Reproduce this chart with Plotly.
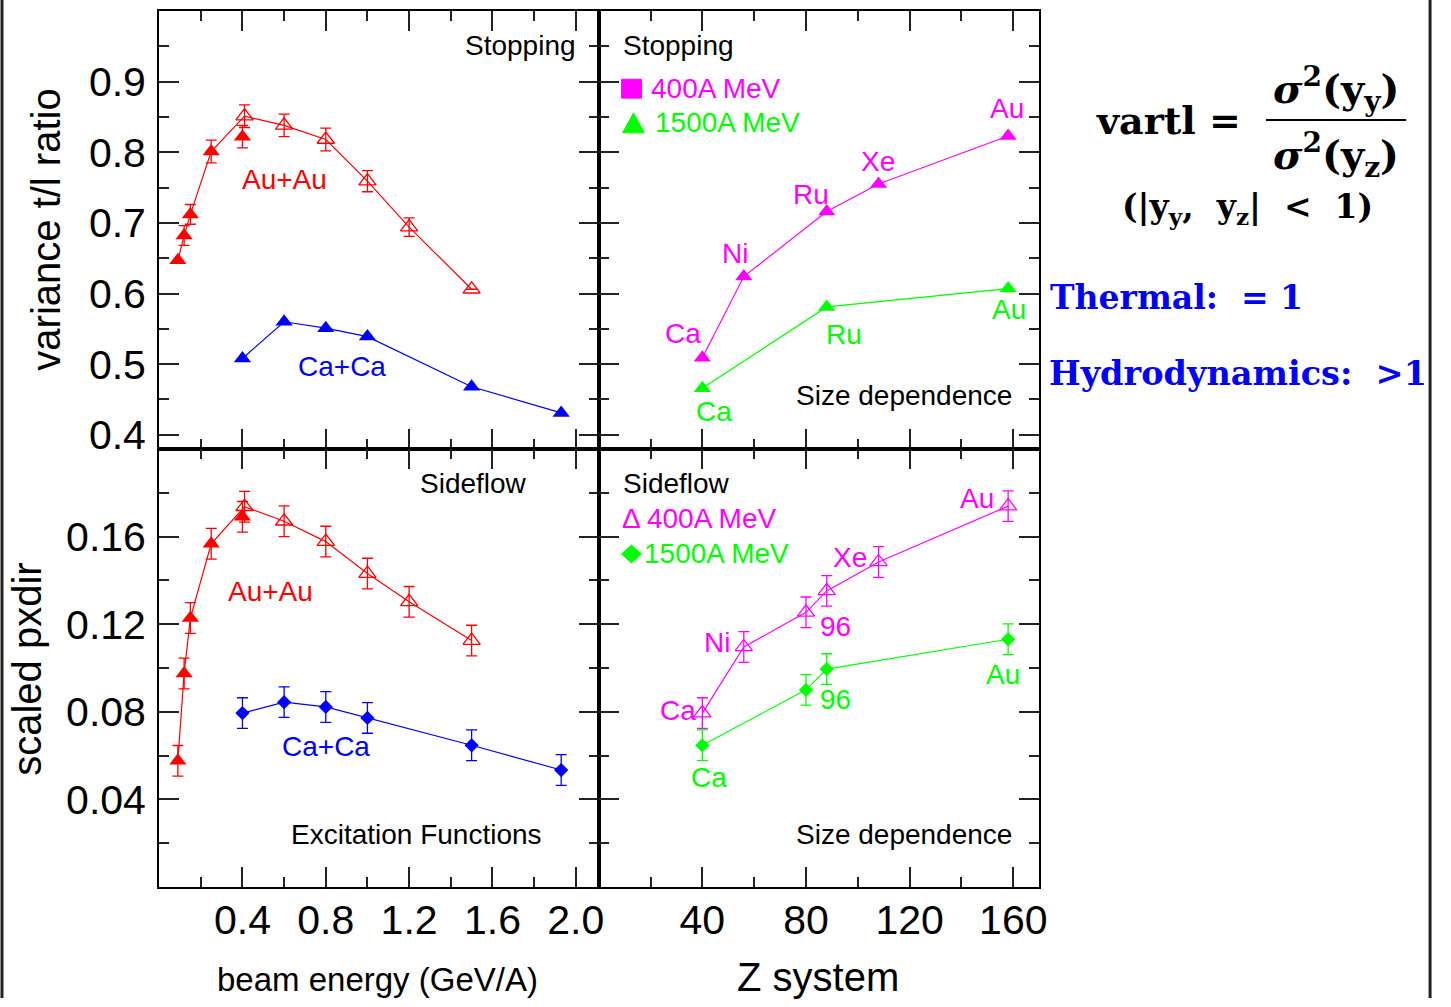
import plotly.graph_objects as go

W, H = 1451, 1007

# ---------------- data ----------------
# Excitation functions, beam energy in GeV/A
au_energy_low = [0.09, 0.12, 0.15, 0.25, 0.40]
au_energy_high = [0.41, 0.6, 0.8, 1.0, 1.2, 1.5]
au_vartl_low = [0.647, 0.682, 0.712, 0.801, 0.822]
au_vartl_low_err = [0.0, 0.014, 0.014, 0.016, 0.016]
au_vartl_high = [0.851, 0.838, 0.818, 0.759, 0.694, 0.606]
au_vartl_high_err = [0.016, 0.016, 0.016, 0.015, 0.013, 0.0]
au_pxdir_low = [0.0576, 0.0975, 0.1228, 0.1567, 0.169]
au_pxdir_low_err = [0.007, 0.007, 0.007, 0.007, 0.007]
au_pxdir_high = [0.1736, 0.167, 0.1577, 0.1431, 0.1302, 0.1125]
au_pxdir_high_err = [0.007, 0.007, 0.007, 0.007, 0.007, 0.007]

ca_energy = [0.4, 0.6, 0.8, 1.0, 1.5, 1.93]
ca_vartl = [0.508, 0.560, 0.551, 0.539, 0.468, 0.431]
ca_pxdir = [0.0794, 0.0844, 0.0822, 0.0772, 0.0647, 0.0534]
ca_pxdir_err = [0.007, 0.007, 0.007, 0.007, 0.007, 0.007]

# Size dependence, Z of the system
stop_z_400 = [40, 56, 88, 108, 158]
stop_vartl_400 = [0.509, 0.624, 0.716, 0.755, 0.823]
stop_names_400 = ["Ca", "Ni", "Ru", "Xe", "Au"]
stop_z_1500 = [40, 88, 158]
stop_vartl_1500 = [0.466, 0.581, 0.607]
stop_names_1500 = ["Ca", "Ru", "Au"]

flow_z_400 = [40, 56, 80, 88, 108, 158]
flow_pxdir_400 = [0.0794, 0.1096, 0.1254, 0.1352, 0.1484, 0.1739]
flow_pxdir_400_err = [0.007, 0.007, 0.007, 0.007, 0.007, 0.007]
flow_names_400 = ["Ca", "Ni", "96", "", "Xe", "Au"]
flow_z_1500 = [40, 80, 88, 158]
flow_pxdir_1500 = [0.0647, 0.0900, 0.0995, 0.1131]
flow_pxdir_1500_err = [0.007, 0.007, 0.007, 0.007]
flow_names_1500 = ["Ca", "96", "", "Au"]

energy_ticks = [0.4, 0.8, 1.2, 1.6, 2.0]
energy_ticktext = ["0.4", "0.8", "1.2", "1.6", "2.0"]
z_ticks = [40, 80, 120, 160]
vartl_ticks = [0.4, 0.5, 0.6, 0.7, 0.8, 0.9]
pxdir_ticks = [0.04, 0.08, 0.12, 0.16]
pxdir_ticktext = ["0.04", "0.08", "0.12", "0.16"]

# ---------------- style ----------------
RED, BLUE, MAG, GRN = "#ff0000", "#0000ff", "#ff00ff", "#00ff00"
SANS = "Liberation Sans, Arial, sans-serif"
SERIF = "DejaVu Serif, serif"
TRI, DIA = 15, 11
LW = 1.2
FS = 28


def px_x(p):
    return p / W


def px_y(p):
    return 1 - p / H


def err(vals, color):
    return dict(type="data", array=vals, visible=True, color=color,
                thickness=1.3, width=5.5)


fig = go.Figure()

# --- top-left: stopping vs beam energy
au_line_e = au_energy_low[:4] + au_energy_high
au_line_v = au_vartl_low[:4] + au_vartl_high
fig.add_trace(go.Scatter(x=au_line_e, y=au_line_v, mode="lines",
                         line=dict(color=RED, width=LW), xaxis="x", yaxis="y"))
fig.add_trace(go.Scatter(x=au_energy_low, y=au_vartl_low, mode="markers",
                         marker=dict(symbol="triangle-up", size=TRI, color=RED),
                         error_y=err(au_vartl_low_err, RED), xaxis="x", yaxis="y"))
fig.add_trace(go.Scatter(x=au_energy_high, y=au_vartl_high, mode="markers",
                         marker=dict(symbol="triangle-up-open", size=TRI, color=RED,
                                     line=dict(width=1.3)),
                         error_y=err(au_vartl_high_err, RED), xaxis="x", yaxis="y"))
fig.add_trace(go.Scatter(x=ca_energy, y=ca_vartl, mode="lines+markers",
                         line=dict(color=BLUE, width=LW),
                         marker=dict(symbol="triangle-up", size=TRI, color=BLUE),
                         xaxis="x", yaxis="y"))

# --- top-right: stopping vs system size
fig.add_trace(go.Scatter(x=stop_z_400, y=stop_vartl_400, mode="lines+markers",
                         line=dict(color=MAG, width=LW),
                         marker=dict(symbol="triangle-up", size=TRI, color=MAG),
                         xaxis="x2", yaxis="y2"))
fig.add_trace(go.Scatter(x=stop_z_1500, y=stop_vartl_1500, mode="lines+markers",
                         line=dict(color=GRN, width=LW),
                         marker=dict(symbol="triangle-up", size=TRI, color=GRN),
                         xaxis="x2", yaxis="y2"))

# --- bottom-left: sideflow vs beam energy
au_line_p = au_pxdir_low[:4] + au_pxdir_high
fig.add_trace(go.Scatter(x=au_line_e, y=au_line_p, mode="lines",
                         line=dict(color=RED, width=LW), xaxis="x3", yaxis="y3"))
fig.add_trace(go.Scatter(x=au_energy_low, y=au_pxdir_low, mode="markers",
                         marker=dict(symbol="triangle-up", size=TRI, color=RED),
                         error_y=err(au_pxdir_low_err, RED), xaxis="x3", yaxis="y3"))
fig.add_trace(go.Scatter(x=au_energy_high, y=au_pxdir_high, mode="markers",
                         marker=dict(symbol="triangle-up-open", size=TRI, color=RED,
                                     line=dict(width=1.3)),
                         error_y=err(au_pxdir_high_err, RED), xaxis="x3", yaxis="y3"))
fig.add_trace(go.Scatter(x=ca_energy, y=ca_pxdir, mode="lines+markers",
                         line=dict(color=BLUE, width=LW),
                         marker=dict(symbol="diamond", size=DIA, color=BLUE),
                         error_y=err(ca_pxdir_err, BLUE), xaxis="x3", yaxis="y3"))

# --- bottom-right: sideflow vs system size
fig.add_trace(go.Scatter(x=flow_z_400, y=flow_pxdir_400, mode="lines+markers",
                         line=dict(color=MAG, width=LW),
                         marker=dict(symbol="triangle-up-open", size=TRI, color=MAG,
                                     line=dict(width=1.3)),
                         error_y=err(flow_pxdir_400_err, MAG), xaxis="x4", yaxis="y4"))
fig.add_trace(go.Scatter(x=flow_z_1500, y=flow_pxdir_1500, mode="lines+markers",
                         line=dict(color=GRN, width=LW),
                         marker=dict(symbol="diamond", size=DIA, color=GRN),
                         error_y=err(flow_pxdir_1500_err, GRN), xaxis="x4", yaxis="y4"))

# ---------------- axes ----------------
XL = [px_x(160), px_x(602)]
XR = [px_x(602), px_x(1045)]
YT = [px_y(453), px_y(11)]
YB = [px_y(895), px_y(453)]


def axis(domain, rng, tickvals, ticktext, minor_vals, anchor, labels, standoff):
    return dict(domain=domain, range=rng, anchor=anchor,
                tickmode="array", tickvals=tickvals, ticktext=ticktext,
                showticklabels=labels, ticks="inside", ticklen=20, tickwidth=1.5,
                tickcolor="#222", showline=True, linecolor="black", linewidth=2,
                mirror="allticks", showgrid=False, zeroline=False,
                ticklabelstandoff=standoff,
                tickfont=dict(family=SANS, size=41, color="black"),
                minor=dict(tickmode="array", tickvals=minor_vals, ticks="inside",
                           ticklen=10, tickwidth=1.5, tickcolor="#222", showgrid=False))


e_minor = [0.2, 0.6, 1.0, 1.4, 1.8]
z_minor = [20, 60, 100, 140]
v_minor = [0.45, 0.55, 0.65, 0.75, 0.85, 0.95]
p_minor = [0.02, 0.06, 0.10, 0.14, 0.18]

E_RANGE = [0, 2.11]
Z_RANGE = [0, 170]
V_RANGE = [0.38, 1.0]
P_RANGE = [0, 0.2]
XSO, YSO = -4, 3

fig.update_layout(
    xaxis=axis(XL, E_RANGE, energy_ticks, energy_ticktext, e_minor, "y", False, XSO),
    yaxis=axis(YT, V_RANGE, vartl_ticks, [f"{v:.1f}" for v in vartl_ticks], v_minor,
               "x", True, YSO),
    xaxis2=axis(XR, Z_RANGE, z_ticks, [str(z) for z in z_ticks], z_minor, "y2", False, XSO),
    yaxis2=axis(YT, V_RANGE, vartl_ticks, None, v_minor, "x2", False, YSO),
    xaxis3=axis(XL, E_RANGE, energy_ticks, energy_ticktext, e_minor, "y3", True, XSO),
    yaxis3=axis(YB, P_RANGE, pxdir_ticks, pxdir_ticktext, p_minor, "x3", True, YSO),
    xaxis4=axis(XR, Z_RANGE, z_ticks, [str(z) for z in z_ticks], z_minor, "y4", True, XSO),
    yaxis4=axis(YB, P_RANGE, pxdir_ticks, None, p_minor, "x4", False, YSO),
)

# ---------------- text ----------------
ann = []


def txt(text, x, y, size=FS, color="black", xanchor="center", yanchor="middle",
        xref="paper", yref="paper", family=SANS, angle=0, xshift=0, yshift=0):
    ann.append(dict(text=text, x=x, y=y, xref=xref, yref=yref, showarrow=False,
                    xanchor=xanchor, yanchor=yanchor, textangle=angle,
                    xshift=xshift, yshift=yshift,
                    font=dict(family=family, size=size, color=color)))


# panel captions
txt("Stopping", px_x(581), px_y(46), xanchor="right")
txt("Stopping", px_x(624), px_y(46), xanchor="left")
txt("Sideflow", px_x(532), px_y(488), xanchor="right")
txt("Sideflow", px_x(624), px_y(488), xanchor="left")
txt("Size dependence", px_x(1020), px_y(399), xanchor="right")
txt("Size dependence", px_x(1020), px_y(842), xanchor="right")
txt("Excitation Functions", px_x(419), px_y(842))
txt("Au+Au", 0.604, 0.762, color=RED, xref="x", yref="y")
txt("Ca+Ca", 0.879, 0.496, color=BLUE, xref="x", yref="y")
txt("Au+Au", 0.537, 0.1351, color=RED, xref="x3", yref="y3")
txt("Ca+Ca", 0.799, 0.0641, color=BLUE, xref="x3", yref="y3")

# legend entries of the size-dependence panels
txt("400A MeV", px_x(653), px_y(89), color=MAG, xanchor="left")
txt("1500A MeV", px_x(657), px_y(124), color=GRN, xanchor="left")
txt("Δ 400A MeV", px_x(623), px_y(523), color=MAG, xanchor="left")
txt("1500A MeV", px_x(646), px_y(558), color=GRN, xanchor="left")


def key_path(points):
    return "M" + " L".join(f"{px_x(a):.5f},{px_y(b):.5f}" for a, b in points) + " Z"


legend_keys = [
    (key_path([(625, 80), (645, 80), (645, 99), (625, 99)]), MAG),
    (key_path([(626, 134), (648, 134), (637, 114)]), GRN),
    (key_path([(625, 559), (635, 550), (645, 559), (635, 568)]), GRN),
]

# system names next to the points (pixel offsets from each point)
stop_off_400 = [(-19, 24), (-9, 23), (-16, 17), (-1, 23), (-1, 27)]
stop_off_1500 = [(12, -23), (17, -28), (1, -21)]
flow_off_400 = [(-24, 3), (-27, 4), (29, -14), (0, 0), (-29, 4), (-31, 8)]
flow_off_1500 = [(7, -32), (29, -10), (0, 0), (-5, -35)]
for xs, ys, names, offs, col, xr, yr in [
        (stop_z_400, stop_vartl_400, stop_names_400, stop_off_400, MAG, "x2", "y2"),
        (stop_z_1500, stop_vartl_1500, stop_names_1500, stop_off_1500, GRN, "x2", "y2"),
        (flow_z_400, flow_pxdir_400, flow_names_400, flow_off_400, MAG, "x4", "y4"),
        (flow_z_1500, flow_pxdir_1500, flow_names_1500, flow_off_1500, GRN, "x4", "y4")]:
    for xv, yv, nm, (dx, dy) in zip(xs, ys, names, offs):
        if nm:
            txt(nm, xv, yv, color=col, xref=xr, yref=yr, xshift=dx, yshift=dy)

# axis titles
txt("variance t/l ratio", px_x(46), px_y(232), size=40, angle=-90)
txt("scaled pxdir", px_x(27), px_y(675), size=40, angle=-90)
txt("beam energy (GeV/A)", px_x(380), px_y(988), size=33)
txt("Z system", px_x(823), px_y(986), size=40)

# ratio definition
txt("<b>vartl =</b>", px_x(1250), px_y(122), size=38, family=SERIF, xanchor="right")
txt("<b><i>σ</i><sup>2</sup>(y<sub>y</sub>)</b>", px_x(1343), px_y(90), size=40, family=SERIF)
txt("<b><i>σ</i><sup>2</sup>(y<sub>z</sub>)</b>", px_x(1343), px_y(156), size=40, family=SERIF)
txt("<b>(|y<sub>y</sub>,  y<sub>z</sub>|  &lt;  1)</b>", px_x(1254), px_y(210), size=33,
    family=SERIF)
txt("<b>Thermal:  = 1</b>", px_x(1054), px_y(300), size=33, family=SERIF,
    color=BLUE, xanchor="left")
txt("<b>Hydrodynamics:  &gt;1</b>", px_x(1053), px_y(377), size=33.5, family=SERIF,
    color=BLUE, xanchor="left")

shapes = [
    dict(type="line", xref="paper", yref="paper", x0=px_x(1273), x1=px_x(1414),
         y0=px_y(121), y1=px_y(121), line=dict(color="black", width=2)),
    dict(type="line", xref="paper", yref="paper", x0=px_x(2), x1=px_x(2),
         y0=0, y1=1, line=dict(color="#222", width=3)),
    dict(type="line", xref="paper", yref="paper", x0=px_x(1438), x1=px_x(1438),
         y0=0, y1=1, line=dict(color="#222", width=3)),
]
for path, col in legend_keys:
    shapes.append(dict(type="path", xref="paper", yref="paper", path=path,
                       fillcolor=col, line=dict(color=col, width=1)))

fig.update_layout(
    width=W, height=H, margin=dict(l=0, r=0, t=0, b=0),
    paper_bgcolor="white", plot_bgcolor="white", showlegend=False,
    annotations=ann, shapes=shapes,
)

fig.write_html("out.html",
               post_script="document.body.style.margin='0';"
                           "document.body.style.overflow='hidden';")
